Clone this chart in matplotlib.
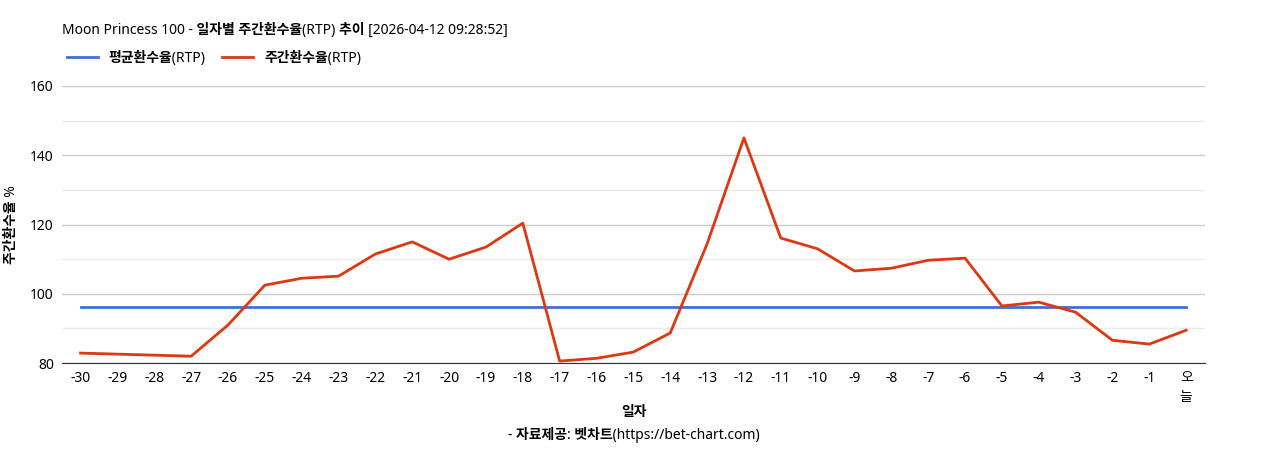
import matplotlib
matplotlib.use("Agg")
import matplotlib.pyplot as plt
from matplotlib.lines import Line2D

plt.rcParams['font.family'] = ['Noto Sans', 'Noto Sans CJK KR', 'DejaVu Sans']

days = [str(d) for d in range(-30, 0)] + ["오늘"]
weekly_rtp = [82.9, 82.6, 82.3, 82.0, 91.0, 102.5, 104.5, 105.1, 111.5, 115.0,
              110.0, 113.5, 120.4, 80.6, 81.4, 83.2, 88.7, 114.4, 145.0, 116.1,
              113.0, 106.6, 107.4, 109.7, 110.3, 96.5, 97.6, 94.7, 86.6, 85.5, 89.5]
avg_rtp = 96.2

fig = plt.figure(figsize=(12.68, 4.5), dpi=100)
ax = fig.add_axes([0.049, 0.193, 0.901, 0.616])

x = list(range(len(days)))
ax.plot(x, [avg_rtp] * len(x), color="#3f6fd8", lw=2)
ax.plot(x, weekly_rtp, color="#dc3912", lw=2)

ax.set_xlim(-0.5, len(days) - 0.5)
ax.set_ylim(80, 160)
ax.set_yticks([80, 100, 120, 140, 160])
ax.set_yticks([90, 110, 130, 150], minor=True)
ax.grid(axis="y", which="major", color="#cccccc", lw=1)
ax.grid(axis="y", which="minor", color="#ebebeb", lw=1)
ax.set_axisbelow(True)
ax.set_xticks(x)
labels = days[:-1] + [""]
ax.set_xticklabels(labels, fontsize=10)
# last label is stacked vertically, one syllable per line
ax.text(x[-1], -0.03, "\n".join(days[-1]), transform=ax.get_xaxis_transform(),
        ha="center", va="top", fontsize=10, linespacing=1.3)
ax.tick_params(axis="x", length=0, pad=6)
ax.tick_params(axis="y", length=0, labelsize=10, pad=6)
ax.tick_params(axis="y", which="minor", length=0)
for s in ["top", "right", "left"]:
    ax.spines[s].set_visible(False)
ax.spines["bottom"].set_color("#333333")

ax.set_ylabel("주간환수율 %", fontsize=10, fontweight="bold", labelpad=8)
fig.text(0.5, 0.075, "일자", ha="center", fontsize=10, fontweight="bold")
fig.text(0.5, 0.025, "- 자료제공: 벳차트(https://bet-chart.com)", ha="center",
         fontsize=10, fontweight="bold")

fig.text(0.049, 0.925, "Moon Princess 100 - 일자별 주간환수율(RTP) 추이 [2026-04-12 09:28:52]",
         fontsize=10, fontweight="bold")
handles = [Line2D([], [], color="#3f6fd8", lw=2), Line2D([], [], color="#dc3912", lw=2)]
fig.legend(handles, ["평균환수율(RTP)", "주간환수율(RTP)"], loc="upper left",
           bbox_to_anchor=(0.043, 0.915), ncol=2, frameon=False,
           handlelength=2.2, columnspacing=1.2, prop={"weight": "bold", "size": 10})

fig.savefig("out.png", dpi=100)
